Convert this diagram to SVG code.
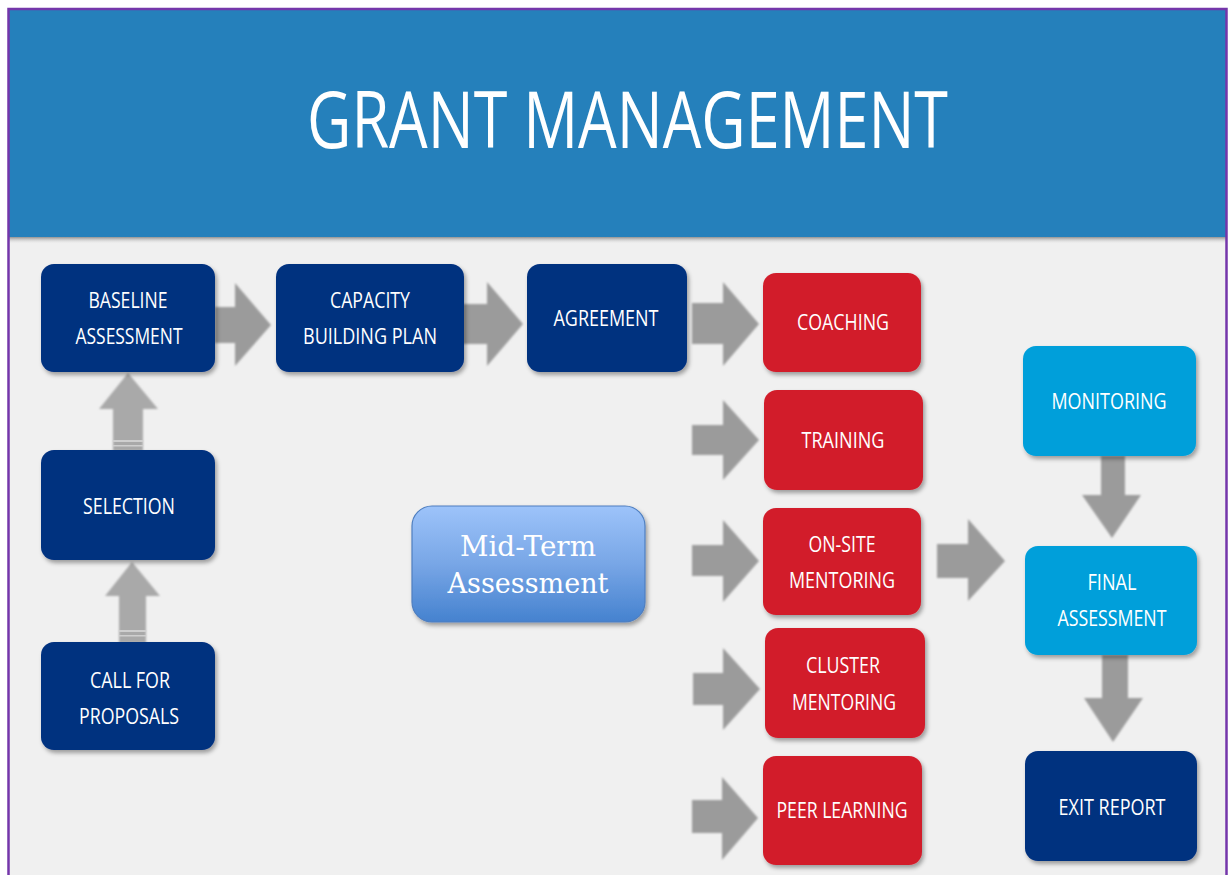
<svg xmlns="http://www.w3.org/2000/svg" width="1229" height="875" viewBox="0 0 1229 875">
  <defs>
    <filter id="shadow" x="-20%" y="-20%" width="140%" height="150%">
      <feDropShadow dx="2" dy="3" stdDeviation="2" flood-color="#000" flood-opacity="0.35"/>
    </filter>
    <filter id="soft" x="-20%" y="-20%" width="140%" height="140%">
      <feGaussianBlur stdDeviation="0.8"/>
    </filter>
    <linearGradient id="headShade" x1="0" y1="0" x2="0" y2="1">
      <stop offset="0" stop-color="#7a7a7a" stop-opacity="0.8"/>
      <stop offset="1" stop-color="#f0f0f0" stop-opacity="0"/>
    </linearGradient>
    <linearGradient id="midGrad" x1="0" y1="0" x2="0" y2="1">
      <stop offset="0" stop-color="#9dc3fa"/>
      <stop offset="0.5" stop-color="#78a6e6"/>
      <stop offset="1" stop-color="#4582cf"/>
    </linearGradient>
    <style>
      .dark { fill: #00307f; }
      .red { fill: #d21e2b; }
      .sky { fill: #009fda; }
      .box { filter: url(#shadow); }
      .lbl { fill: #ffffff; font-family: "Open Sans", "Liberation Sans", sans-serif; font-size: 21px; text-anchor: middle; }
      .arrow { fill: #9b9b9b; filter: url(#soft); }
      .up { fill: #a9a9a9; filter: url(#soft); }
      .stripe { fill: #cfcfcf; }
    </style>
  </defs>

  <!-- page frame and header band -->
  <rect x="0" y="0" width="1229" height="875" fill="#ffffff"/>
  <rect x="9" y="9" width="1217" height="870" fill="#f0f0f0"/>
  <rect x="9" y="237" width="1217" height="7" fill="url(#headShade)"/>
  <rect x="9" y="9" width="1217" height="228" fill="#2580bb"/>
  <path d="M8.5,880 V9 H1226.5 V880" fill="none" stroke="#7436aa" stroke-width="2.5"/>
  <text x="307" y="148" textLength="641" lengthAdjust="spacingAndGlyphs" fill="#ffffff" font-family="'Open Sans', 'Liberation Sans', sans-serif" font-size="78">GRANT MANAGEMENT</text>

  <!-- connectors -->
  <g id="connectors">
    <path class="arrow" d="M215,307 H235 V283 L271,325 L235,366 V343 H215 Z"/>
    <path class="arrow" d="M463,304 H487 V282 L523,324 L487,366 V344 H463 Z"/>
    <path class="arrow" d="M692,303 H723 V282 L759,324 L723,366 V344 H692 Z"/>
    <path class="arrow" d="M692,425 H723 V400 L759,440 L723,480 V455 H692 Z"/>
    <path class="arrow" d="M692,545 H723 V520 L759,561 L723,602 V576 H692 Z"/>
    <path class="arrow" d="M693,673 H723 V648 L760,689 L723,730 V705 H693 Z"/>
    <path class="arrow" d="M692,800 H722 V777 L758,818 L722,860 V833 H692 Z"/>
    <path class="arrow" d="M937,544 H968 V519 L1005,561 L968,601 V578 H937 Z"/>
    <path class="arrow" d="M1101,456 V495 H1082 L1112,538 L1141,495 H1125 V456 Z"/>
    <path class="arrow" d="M1102,655 V698 H1084 L1113,742 L1143,698 H1128 V655 Z"/>
    <path class="up" d="M113,451 V409 H99 L128,373 L158,409 H143 V451 Z"/>
    <rect class="stripe" x="113" y="440" width="30" height="2"/>
    <rect class="stripe" x="113" y="445" width="30" height="1.5"/>
    <path class="up" d="M119,643 V596 H105 L132,562 L160,596 H146 V643 Z"/>
    <rect class="stripe" x="119" y="630" width="27" height="2"/>
    <rect class="stripe" x="119" y="635" width="27" height="1.5"/>
  </g>

  <!-- left column -->
  <g id="baseline-assessment">
    <rect class="box dark" x="41" y="264" width="174" height="108" rx="13"/>
    <text class="lbl" x="128" y="308" textLength="79" lengthAdjust="spacingAndGlyphs">BASELINE</text>
    <text class="lbl" x="129" y="344" textLength="107" lengthAdjust="spacingAndGlyphs">ASSESSMENT</text>
  </g>
  <g id="selection">
    <rect class="box dark" x="41" y="450" width="174" height="110" rx="13"/>
    <text class="lbl" x="129" y="514" textLength="92" lengthAdjust="spacingAndGlyphs">SELECTION</text>
  </g>
  <g id="call-for-proposals">
    <rect class="box dark" x="41" y="642" width="174" height="108" rx="13"/>
    <text class="lbl" x="130" y="688" textLength="80" lengthAdjust="spacingAndGlyphs">CALL FOR</text>
    <text class="lbl" x="129" y="724" textLength="100" lengthAdjust="spacingAndGlyphs">PROPOSALS</text>
  </g>

  <!-- top row -->
  <g id="capacity-building-plan">
    <rect class="box dark" x="276" y="264" width="188" height="108" rx="13"/>
    <text class="lbl" x="370" y="308" textLength="80" lengthAdjust="spacingAndGlyphs">CAPACITY</text>
    <text class="lbl" x="370" y="344" textLength="134" lengthAdjust="spacingAndGlyphs">BUILDING PLAN</text>
  </g>
  <g id="agreement">
    <rect class="box dark" x="527" y="264" width="160" height="108" rx="13"/>
    <text class="lbl" x="606" y="326" textLength="105" lengthAdjust="spacingAndGlyphs">AGREEMENT</text>
  </g>

  <!-- mid-term -->
  <g id="mid-term-assessment">
    <rect x="412" y="506" width="233" height="116" rx="20" fill="url(#midGrad)" stroke="#4f7fc0" stroke-width="1.2" filter="url(#shadow)"/>
    <text x="528" y="556" textLength="136" lengthAdjust="spacingAndGlyphs" fill="#ffffff" font-family="'DejaVu Serif', 'Liberation Serif', serif" font-size="27" text-anchor="middle">Mid-Term</text>
    <text x="528" y="593" textLength="161" lengthAdjust="spacingAndGlyphs" fill="#ffffff" font-family="'DejaVu Serif', 'Liberation Serif', serif" font-size="27" text-anchor="middle">Assessment</text>
  </g>

  <!-- capacity building activities -->
  <g id="coaching">
    <rect class="box red" x="763" y="273" width="158" height="99" rx="13"/>
    <text class="lbl" x="843" y="330" textLength="92" lengthAdjust="spacingAndGlyphs">COACHING</text>
  </g>
  <g id="training">
    <rect class="box red" x="764" y="390" width="159" height="100" rx="13"/>
    <text class="lbl" x="843" y="448" textLength="83" lengthAdjust="spacingAndGlyphs">TRAINING</text>
  </g>
  <g id="on-site-mentoring">
    <rect class="box red" x="763" y="508" width="158" height="107" rx="13"/>
    <text class="lbl" x="842" y="552" textLength="67" lengthAdjust="spacingAndGlyphs">ON-SITE</text>
    <text class="lbl" x="842" y="588" textLength="106" lengthAdjust="spacingAndGlyphs">MENTORING</text>
  </g>
  <g id="cluster-mentoring">
    <rect class="box red" x="765" y="628" width="160" height="110" rx="13"/>
    <text class="lbl" x="843" y="673" textLength="74" lengthAdjust="spacingAndGlyphs">CLUSTER</text>
    <text class="lbl" x="844" y="710" textLength="104" lengthAdjust="spacingAndGlyphs">MENTORING</text>
  </g>
  <g id="peer-learning">
    <rect class="box red" x="763" y="756" width="159" height="109" rx="13"/>
    <text class="lbl" x="842" y="818" textLength="131" lengthAdjust="spacingAndGlyphs">PEER LEARNING</text>
  </g>

  <!-- right column -->
  <g id="monitoring">
    <rect class="box sky" x="1023" y="346" width="173" height="110" rx="13"/>
    <text class="lbl" x="1109" y="409" textLength="115" lengthAdjust="spacingAndGlyphs">MONITORING</text>
  </g>
  <g id="final-assessment">
    <rect class="box sky" x="1025" y="546" width="172" height="109" rx="13"/>
    <text class="lbl" x="1112" y="590" textLength="49" lengthAdjust="spacingAndGlyphs">FINAL</text>
    <text class="lbl" x="1112" y="626" textLength="109" lengthAdjust="spacingAndGlyphs">ASSESSMENT</text>
  </g>
  <g id="exit-report">
    <rect class="box dark" x="1025" y="751" width="172" height="110" rx="13"/>
    <text class="lbl" x="1112" y="815" textLength="107" lengthAdjust="spacingAndGlyphs">EXIT REPORT</text>
  </g>
</svg>
